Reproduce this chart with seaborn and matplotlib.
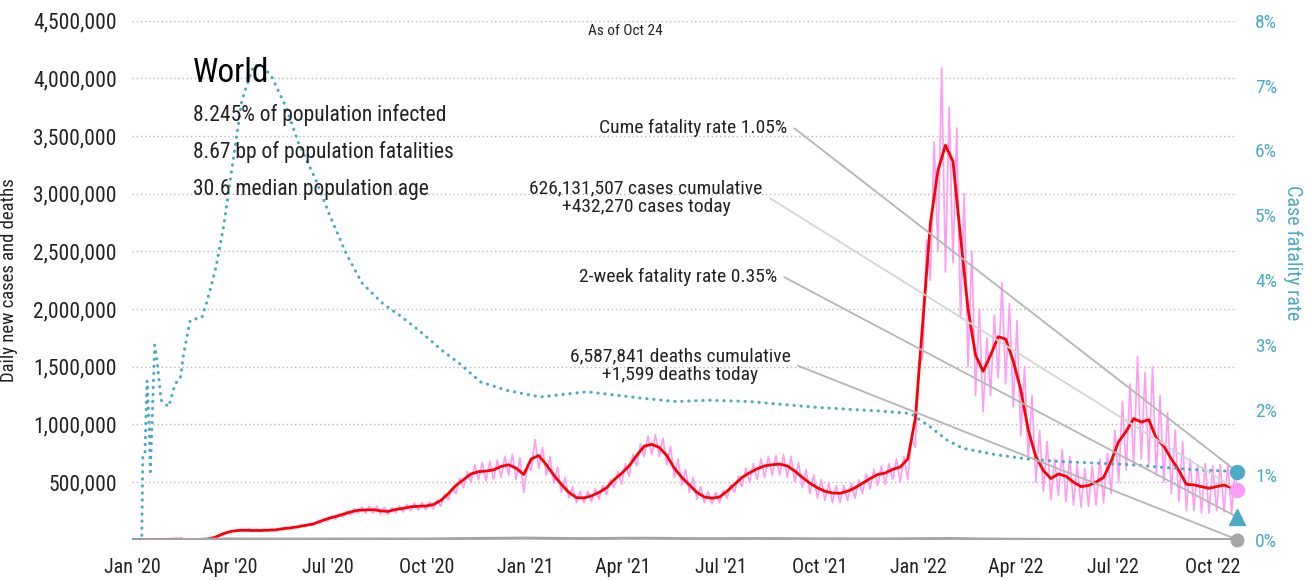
import matplotlib
matplotlib.use("Agg")
import matplotlib.pyplot as plt
import matplotlib.dates as mdates
from matplotlib import font_manager as fm
from matplotlib.ticker import FuncFormatter
import seaborn as sns
import pandas as pd
import numpy as np

sns.set_theme(style="white")

# the reference uses a condensed grotesque; take a narrow face if one is installed
fonts = fm.fontManager.ttflist
names = {f.name for f in fonts}
scale = 1.0
if "Liberation Sans Narrow" in names:
    plt.rcParams['font.family'] = ['Liberation Sans Narrow', 'DejaVu Sans']
elif "Roboto Condensed" in names:
    plt.rcParams['font.family'] = ['Roboto Condensed', 'DejaVu Sans']
elif any(f.name == "DejaVu Sans" and f.stretch == "condensed" for f in fonts):
    plt.rcParams['font.family'] = ['DejaVu Sans']
    plt.rcParams['font.stretch'] = 'condensed'
    scale = 0.9
else:
    plt.rcParams['font.family'] = ['Roboto', 'DejaVu Sans']
    scale = 0.8

# weekly dates (Jan 1 2020 .. Oct 19 2022) plus the last day shown
weeks = list(pd.date_range("2020-01-01", periods=147, freq="7D")) + [pd.Timestamp("2022-10-24")]

# 7-day average of new cases, thousands
avg_cases = [
    0, 0, 0, 0.6, 2, 3.5, 5, 2, 1.5, 2.5,
    6, 20, 50, 70, 80, 82, 80, 80, 82, 85,
    95, 102, 112, 124, 135, 160, 183, 200, 220, 240,
    255, 258, 260, 250, 245, 262, 272, 285, 290, 292,
    305, 340, 400, 470, 520, 570, 590, 595, 605, 635,
    650, 620, 565, 700, 730, 650, 560, 480, 410, 365,
    362, 380, 410, 450, 520, 575, 640, 730, 810, 827,
    800, 730, 620, 540, 475, 410, 370, 360, 370, 420,
    480, 540, 580, 615, 640, 650, 655, 640, 595, 540,
    490, 450, 420, 405, 402, 420, 450, 490, 530, 565,
    578, 610, 630, 700, 1050, 1900, 2740, 3200, 3420, 3280,
    2630, 2000, 1600, 1460, 1600, 1760, 1740, 1550, 1300, 950,
    720, 600, 530, 570, 550, 500, 460, 470, 500, 540,
    680, 850, 940, 1050, 1020, 1040, 880, 810, 700, 600,
    480, 475, 460, 446, 460, 474, 450,
    402,
]

# daily new cases, weekly highs and lows, thousands
daily_hi = [
    0, 0, 0, 1, 3, 4, 15, 3, 2, 3,
    8, 26, 60, 78, 92, 98, 90, 90, 94, 96,
    106, 115, 128, 140, 152, 180, 205, 225, 248, 268,
    285, 290, 292, 282, 278, 292, 305, 318, 322, 328,
    345, 390, 455, 530, 590, 650, 670, 680, 690, 720,
    740, 710, 640, 870, 800, 720, 630, 540, 460, 420,
    420, 440, 470, 520, 590, 660, 740, 830, 900, 910,
    880, 810, 700, 610, 540, 460, 420, 410, 430, 480,
    550, 620, 660, 700, 720, 730, 740, 720, 670, 610,
    560, 520, 490, 470, 470, 490, 520, 570, 610, 640,
    660, 700, 720, 880, 1500, 2600, 3450, 4090, 3750, 3570,
    3000, 2500, 2000, 1750, 1950, 2230, 2050, 1900, 1500, 1250,
    950, 850, 700, 780, 720, 650, 620, 640, 700, 750,
    950, 1200, 1350, 1590, 1450, 1500, 1250, 1100, 950, 850,
    700, 650, 660, 640, 650, 660, 640,
]
daily_lo = [
    0, 0, 0, 0.3, 1.5, 3, 2, 1, 1, 2,
    4, 15, 40, 62, 72, 74, 72, 72, 74, 76,
    85, 94, 102, 110, 125, 140, 160, 178, 195, 215,
    228, 230, 228, 222, 220, 235, 240, 250, 255, 258,
    265, 290, 345, 400, 450, 500, 520, 510, 520, 540,
    560, 520, 410, 600, 620, 560, 490, 410, 360, 320,
    320, 330, 350, 390, 450, 480, 550, 640, 720, 740,
    720, 650, 540, 470, 410, 350, 320, 310, 320, 360,
    410, 460, 500, 520, 540, 560, 560, 540, 500, 450,
    400, 360, 340, 320, 320, 340, 360, 400, 440, 470,
    480, 520, 500, 520, 800, 1600, 2250, 2500, 2320, 2400,
    1920, 1500, 1250, 1110, 1250, 1400, 1350, 1150, 900, 700,
    500, 420, 350, 380, 330, 300, 280, 290, 300, 320,
    400, 500, 600, 650, 700, 650, 560, 500, 400, 330,
    250, 250, 230, 230, 250, 240, 230,
]
cases_today = 432.270

# daily deaths, monthly level, thousands
death_dates = list(pd.date_range("2020-01-01", "2022-10-01", freq="MS")) + [pd.Timestamp("2022-10-24")]
daily_deaths = [
    0.0, 0.1, 1.5, 6.5, 4.5, 4.6, 5.5, 6.0, 5.5, 6.0, 9.5, 11.5,
    14.0, 10.5, 9.0, 12.5, 12.0, 9.0, 8.5, 10.0, 8.8, 7.2, 7.0, 6.8,
    8.5, 10.5, 5.5, 3.5, 2.2, 1.5, 2.0, 2.2, 1.6, 1.5,
    1.599,
]

# cumulative case fatality rate, %
cfr_dates = pd.to_datetime([
    "2020-01-01", "2020-01-10", "2020-01-11", "2020-01-13", "2020-01-15", "2020-01-17",
    "2020-01-18", "2020-01-20", "2020-01-22", "2020-01-24", "2020-01-28", "2020-02-04",
    "2020-02-10", "2020-02-15", "2020-02-18", "2020-02-24", "2020-03-06", "2020-03-11",
    "2020-03-19", "2020-03-26", "2020-04-03", "2020-04-12", "2020-04-23", "2020-05-01",
    "2020-05-10", "2020-05-23", "2020-06-04", "2020-06-20", "2020-07-02", "2020-07-18",
    "2020-08-02", "2020-08-21", "2020-09-08", "2020-09-27", "2020-10-15", "2020-10-31",
    "2020-11-20", "2020-12-15", "2021-01-14", "2021-02-27", "2021-04-19", "2021-05-21",
    "2021-06-21", "2021-07-28", "2021-08-10", "2021-09-28", "2021-11-29", "2021-12-21",
    "2021-12-27", "2022-01-11", "2022-01-27", "2022-02-11", "2022-03-14", "2022-04-14",
    "2022-05-18", "2022-07-13", "2022-09-13", "2022-10-24",
])
cfr_pct = [
    0, 0, 1.31, 1.35, 2.45, 1.7,
    1.05, 2.0, 3.0, 2.8, 2.15, 2.05,
    2.4, 2.5, 2.87, 3.38, 3.43, 3.69,
    4.2, 4.82, 5.74, 6.77, 7.31, 7.31,
    7.13, 6.67, 6.1, 5.54, 5.03, 4.41,
    3.95, 3.64, 3.43, 3.18, 2.92, 2.72,
    2.43, 2.3, 2.2, 2.28, 2.18, 2.13,
    2.15, 2.13, 2.11, 2.04, 1.98, 1.95,
    1.92, 1.75, 1.54, 1.41, 1.31, 1.24,
    1.2, 1.16, 1.08, 1.05,
]
cume_cfr = 1.05
two_week_cfr = 0.35

info_lines = ["8.245% of population infected",
              "8.67 bp of population fatalities",
              "30.6 median population age"]

TEAL = "#4aabc7"
PINK = "#ff9cf5"
RED = "#ff0000"
GREY = "#a6a6a6"
LINE = "#b5b5b5"
LINE_LIGHT = "#d4d4d4"
DARK = "#222222"

# zig-zag of daily values: low then high in each week
pink_x, pink_y = [], []
for d, lo, hi in zip(weeks[:-1], daily_lo, daily_hi):
    pink_x += [d, d + pd.Timedelta(hours=84)]
    pink_y += [lo * 1000, hi * 1000]
pink_x.append(weeks[-1])
pink_y.append(cases_today * 1000)

fig = plt.figure(figsize=(13.14, 5.8), dpi=100)
ax = fig.add_axes([0.1005, 0.0695, 0.8409, 0.8948])
ax2 = ax.twinx()

sns.lineplot(x=pink_x, y=pink_y, ax=ax, color=PINK, lw=1.2, estimator=None, sort=False, zorder=2)
sns.lineplot(x=weeks, y=np.array(avg_cases) * 1000, ax=ax, color=RED, lw=2.0, estimator=None, zorder=3)
sns.lineplot(x=death_dates, y=np.array(daily_deaths) * 1000, ax=ax, color=GREY, lw=2.2, estimator=None, zorder=3)
sns.lineplot(x=cfr_dates, y=cfr_pct, ax=ax2, color=TEAL, lw=2.2, estimator=None,
             linestyle=(0, (0.1, 2.2)), dash_capstyle="round", zorder=3)

ax.set_xlim(pd.Timestamp("2020-01-01"), pd.Timestamp("2022-10-24"))
ax.set_ylim(0, 4.5e6)
ax2.set_ylim(0, 8)

ax.set_yticks(np.arange(0, 4.5e6 + 1, 5e5))
ax.yaxis.set_major_formatter(FuncFormatter(lambda v, p: "" if v == 0 else f"{int(v):,}"))
ax2.set_yticks(range(0, 9))
ax2.yaxis.set_major_formatter(FuncFormatter(lambda v, p: f"{v:.0f}%"))

ax.xaxis.set_major_locator(mdates.MonthLocator(bymonth=[1, 4, 7, 10]))
ax.xaxis.set_major_formatter(mdates.DateFormatter("%b '%y"))

ax.yaxis.grid(True, linestyle=(0, (1, 2)), color="#b8b8b8", lw=1)
ax.xaxis.grid(False)
ax2.grid(False)
for a in (ax, ax2):
    for s in a.spines.values():
        s.set_visible(False)

ax.tick_params(axis="y", length=0, pad=11, labelsize=15.5 * scale, labelcolor=DARK)
ax.tick_params(axis="x", length=0, pad=13, labelsize=14.5 * scale, labelcolor=DARK)
ax2.tick_params(axis="y", length=0, pad=13, labelsize=14 * scale, labelcolor=TEAL)

ax.set_ylabel("Daily new cases and deaths", fontsize=13.5 * scale, color=DARK)
ax.yaxis.set_label_coords(-0.1035, 0.5)
ax2.set_ylabel("Case fatality rate", fontsize=14.5 * scale, color=TEAL, rotation=270, va="center")
ax2.yaxis.set_label_coords(1.0507, 0.554)

# title block
fig.text(0.1469, 0.8586, "World", fontsize=24 * scale, color="black", va="baseline")
for txt, yb in zip(info_lines, [0.7919, 0.7281, 0.6638]):
    fig.text(0.1469, yb, txt, fontsize=15.5 * scale, color=DARK, va="baseline")
fig.text(0.4757, 0.9397, "As of Oct 24", fontsize=11 * scale, color=DARK, ha="center", va="baseline")

# end markers
end = weeks[-1]
ax2.plot([end], [cume_cfr], marker="o", ms=10, color=TEAL, clip_on=False, zorder=6)
ax2.plot([end], [cases_today * 1000], marker="o", ms=10, color=PINK, clip_on=False, zorder=6,
         transform=ax.transData)
ax2.plot([end], [two_week_cfr], marker="^", ms=11, color=TEAL, clip_on=False, zorder=6)
ax2.plot([end], [daily_deaths[-1] * 1000], marker="o", ms=9, color=GREY, clip_on=False, zorder=6,
         transform=ax.transData)

def callout(text, xytext, ha, target, trans, color):
    ax2.annotate(text, xy=(mdates.date2num(target[0]), target[1]), xycoords=trans,
                 xytext=xytext, textcoords="figure fraction", ha=ha, va="center",
                 multialignment="center", fontsize=14 * scale, color=DARK, linespacing=1.05,
                 annotation_clip=False, zorder=4,
                 arrowprops=dict(arrowstyle="-", color=color, lw=1.3, relpos=(1, 0.5),
                                 shrinkA=3, shrinkB=0,
                                 connectionstyle="arc,angleA=0,armA=7,angleB=0,armB=0,rad=0"))

callout("Cume fatality rate 1.05%", (0.5989, 0.7793), "right", (end, cume_cfr), ax2.transData, LINE)
callout("626,131,507 cases cumulative\n+432,270 cases today", (0.4916, 0.6586), "center",
        (end, cases_today * 1000), ax.transData, LINE_LIGHT)
callout("2-week fatality rate 0.35%", (0.5913, 0.5224), "right", (end, two_week_cfr), ax2.transData, LINE)
callout("6,587,841 deaths cumulative\n+1,599 deaths today", (0.5175, 0.3698), "center",
        (end, daily_deaths[-1] * 1000), ax.transData, LINE)

ax.set_xlim(pd.Timestamp("2020-01-01"), pd.Timestamp("2022-10-24"))
fig.savefig("out.png", dpi=100)
